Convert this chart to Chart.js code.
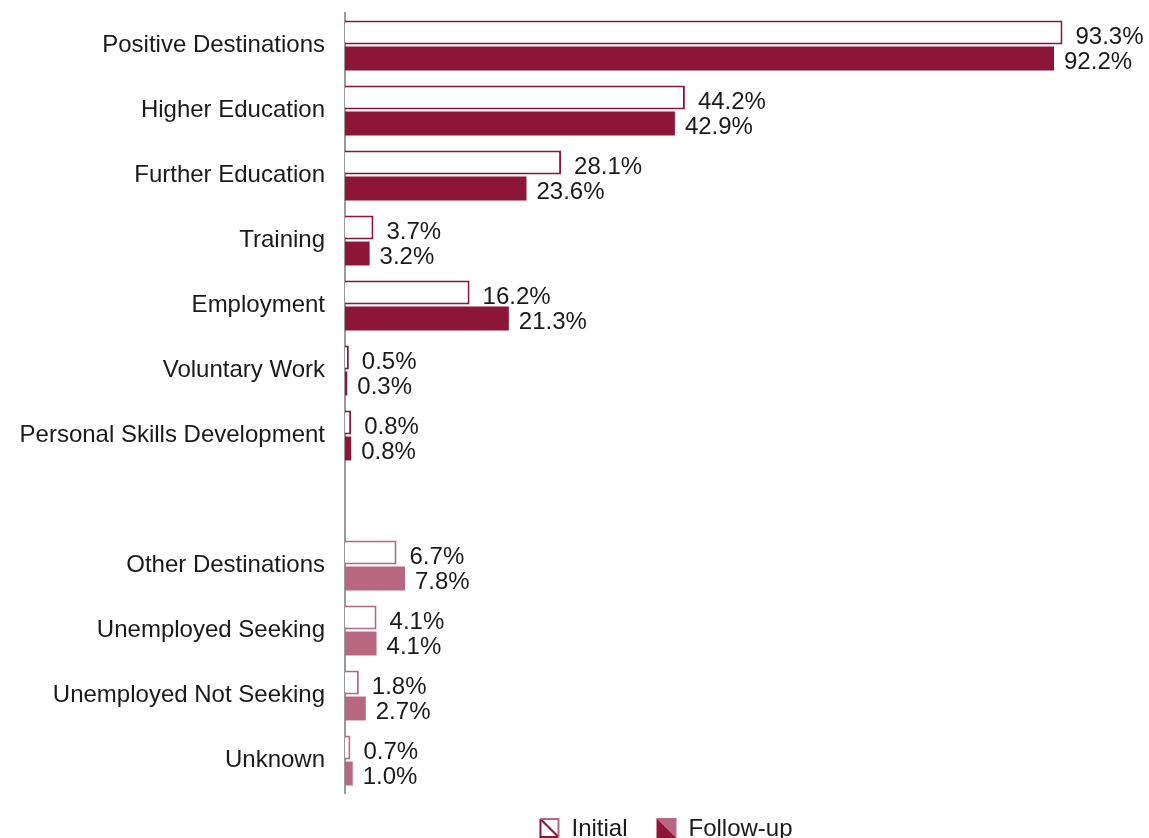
<!DOCTYPE html>
<html><head><meta charset="utf-8">
<script src="https://cdn.jsdelivr.net/npm/chart.js@4/dist/chart.umd.min.js"></script>
<style>html,body{margin:0;padding:0;background:#fff}#wrap{width:1149px;height:838px;position:relative}</style>
</head><body><div id="wrap"><canvas id="c"></canvas></div>
<script>
const categories = ["Positive Destinations","Higher Education","Further Education","Training","Employment","Voluntary Work","Personal Skills Development","","Other Destinations","Unemployed Seeking","Unemployed Not Seeking","Unknown"];
const initialValues = [93.3,44.2,28.1,3.7,16.2,0.5,0.8,null,6.7,4.1,1.8,0.7];
const followUpValues = [92.2,42.9,23.6,3.2,21.3,0.3,0.8,null,7.8,4.1,2.7,1.0];
const seriesNames = ["Initial","Follow-up"];

const DARK = "#8C1538", PINK = "#B7677F";
const barColors = categories.map((c,i)=> i < 7 ? DARK : PINK);
const FONT = "'Liberation Sans', Arial, sans-serif";
const FS = 24;

function drawIcon(g, type, x, y, s){
  g.save();
  if (type === 0){
    g.fillStyle = '#fff'; g.fillRect(x,y,s,s);
    g.lineWidth = 2;
    g.strokeStyle = DARK; g.beginPath(); g.moveTo(x+1,y+1); g.lineTo(x+1,y+s-1); g.lineTo(x+s-1,y+s-1); g.stroke();
    g.strokeStyle = PINK; g.beginPath(); g.moveTo(x+1,y+1); g.lineTo(x+s-1,y+1); g.lineTo(x+s-1,y+s-1); g.stroke();
    g.strokeStyle = DARK; g.beginPath(); g.moveTo(x+2,y+2); g.lineTo(x+s-2,y+s-2); g.stroke();
  } else {
    g.fillStyle = DARK; g.beginPath(); g.moveTo(x,y); g.lineTo(x+s,y+s); g.lineTo(x,y+s); g.closePath(); g.fill();
    g.fillStyle = PINK; g.beginPath(); g.moveTo(x,y); g.lineTo(x+s,y); g.lineTo(x+s,y+s); g.closePath(); g.fill();
  }
  g.restore();
}

const customLegend = {
  id:'customLegend',
  afterDraw(chart){
    const g = chart.ctx;
    g.save();
    g.font = FS + "px " + FONT;
    g.textBaseline = 'middle';
    g.textAlign = 'left';
    const box = 20, gap = 12, itemGap = 29;
    const widths = seriesNames.map(n => box + gap + g.measureText(n).width);
    const total = widths.reduce((a,b)=>a+b,0) + itemGap*(seriesNames.length-1);
    const cx = 666, cy = 828;
    let x = cx - total/2;
    seriesNames.forEach((n,i)=>{
      drawIcon(g, i, x, cy - box/2, box);
      g.fillStyle = "#1a1a1a";
      g.fillText(n, x + box + gap, cy + 1);
      x += widths[i] + itemGap;
    });
    g.restore();
  }
};

const valueLabels = {
  id:'valueLabels',
  afterDatasetsDraw(chart){
    const ctx = chart.ctx;
    ctx.save();
    ctx.font = FS + "px " + FONT;
    ctx.fillStyle = "#1a1a1a";
    ctx.textBaseline = 'middle';
    ctx.textAlign = 'left';
    chart.data.datasets.forEach((ds,di)=>{
      const meta = chart.getDatasetMeta(di);
      meta.data.forEach((bar,i)=>{
        const v = ds.data[i];
        if (v === null || v === undefined) return;
        const off = di === 0 ? 13 : 10;
        ctx.fillText(v.toFixed(1) + "%", bar.x + off, bar.y + (di === 0 ? 5 : 4));
      });
    });
    ctx.restore();
  }
};

new Chart(document.getElementById('c'), {
  type:'bar',
  data:{
    labels: categories,
    datasets:[
      {label: seriesNames[0], data: initialValues, backgroundColor:'#ffffff', borderColor: barColors, borderWidth:2, borderSkipped:'start', categoryPercentage:0.8, barPercentage:0.92},
      {label: seriesNames[1], data: followUpValues, backgroundColor: barColors, borderWidth:0, categoryPercentage:0.8, barPercentage:0.92}
    ]
  },
  options:{
    indexAxis:'y',
    responsive:true, maintainAspectRatio:false, animation:false,
    layout:{padding:{top:13,right:35,left:0,bottom:45}},
    scales:{
      x:{display:false, min:0, max:100},
      y:{
        grid:{display:false, drawTicks:false},
        border:{display:true, color:'#9a9a9a', width:2},
        ticks:{font:{size:FS, family:FONT}, color:'#1a1a1a', padding:20},
        afterFit(s){ s.width = 345; s.paddingTop = 0; s.paddingBottom = 0; }
      }
    },
    plugins:{
      tooltip:{enabled:false},
      legend:{display:false}
    }
  },
  plugins:[valueLabels, customLegend]
});
</script></body></html>
